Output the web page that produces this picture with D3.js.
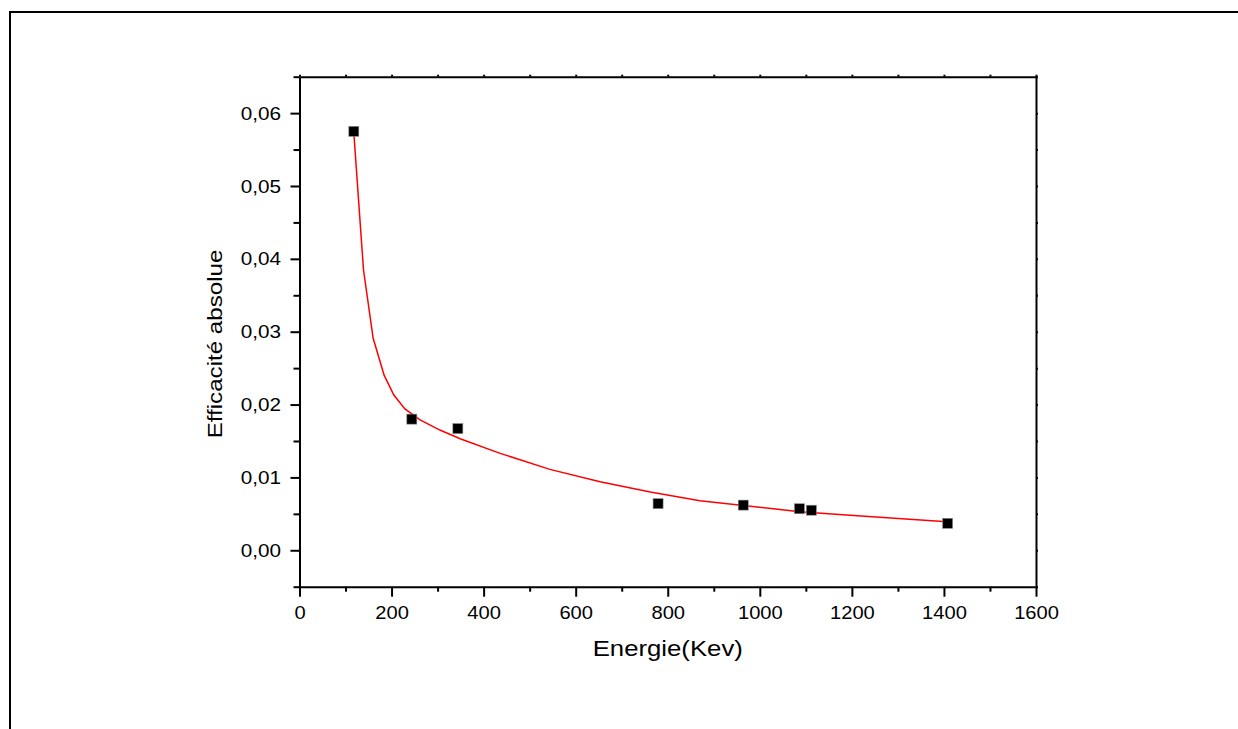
<!DOCTYPE html>
<html>
<head>
<meta charset="utf-8">
<script src="https://cdn.jsdelivr.net/npm/d3@7"></script>
<style>
  body { margin: 0; background: #fff; }
  text { font-family: Arial, "Liberation Sans", sans-serif; fill: #000; }
</style>
</head>
<body>
<div id="container"></div>
<script>
const width = 1238;
const height = 729;

// measured points (energy in keV, absolute efficiency)
const energies = [118, 244, 344, 779, 964, 1086, 1112, 1408];
const efficiencies = [0.0575, 0.0180, 0.0167, 0.0064, 0.0062, 0.0057, 0.0055, 0.0037];

// fitted curve
const fitX = [118, 139, 160, 184, 205, 229, 262, 305, 349, 436, 544, 653, 762, 870, 1087, 1196, 1406];
const fitY = [0.0573, 0.0385, 0.0291, 0.0240, 0.0213, 0.0194, 0.0179, 0.0165, 0.0153, 0.0133, 0.0111, 0.0094, 0.0080, 0.0068, 0.0053, 0.0048, 0.0039];

const xTicks = [0, 200, 400, 600, 800, 1000, 1200, 1400, 1600];
const xMinor = [100, 300, 500, 700, 900, 1100, 1300, 1500];
const yTicks = [0, 0.01, 0.02, 0.03, 0.04, 0.05, 0.06];
const yMinor = [-0.005, 0.005, 0.015, 0.025, 0.035, 0.045, 0.055, 0.065];

const xTitle = "Energie(Kev)";
const yTitle = "Efficacité absolue";

const plotLeft = 299.5, plotRight = 1036, plotTop = 76.7, plotBottom = 586.7;
const stretch = 1.15;

let svg = d3.select("#container").append("svg")
    .attr("width", width)
    .attr("height", height)
    .attr("viewBox", `0 0 ${width} ${height}`);

// page frame (top and left edges only are visible)
svg.append("line").attr("x1", 10).attr("x2", width).attr("y1", 12).attr("y2", 12)
    .attr("stroke", "#000").attr("stroke-width", 2);
svg.append("line").attr("x1", 10).attr("x2", 10).attr("y1", 11).attr("y2", height)
    .attr("stroke", "#000").attr("stroke-width", 2);

let x = d3.scaleLinear().domain([0, 1600]).range([plotLeft, plotRight]);
let y = d3.scaleLinear().domain([-0.005, 0.065]).range([plotBottom, plotTop]);

let fmt = d => d3.format(".2f")(d).replace(".", ",");

// bottom axis
let gx = svg.append("g").attr("transform", `translate(0,${plotBottom})`)
    .call(d3.axisBottom(x).tickValues(xTicks).tickSize(10).tickSizeOuter(0).tickFormat(d3.format("d")));
gx.selectAll("text").attr("y", 32).attr("dy", null).style("font-size", "17.5px")
    .attr("transform", `scale(${stretch},1)`);
svg.append("g").attr("transform", `translate(0,${plotBottom})`)
    .call(d3.axisBottom(x).tickValues(xMinor).tickSize(5).tickSizeOuter(0).tickFormat(""))
    .select(".domain").remove();

// left axis
let gy = svg.append("g").attr("transform", `translate(${plotLeft},0)`)
    .call(d3.axisLeft(y).tickValues(yTicks).tickSize(9).tickSizeOuter(0).tickFormat(fmt));
gy.selectAll("text").attr("x", -16).attr("dy", "0.34em").style("font-size", "18px")
    .attr("transform", `scale(${stretch},1)`);
svg.append("g").attr("transform", `translate(${plotLeft},0)`)
    .call(d3.axisLeft(y).tickValues(yMinor).tickSize(6).tickSizeOuter(0).tickFormat(""))
    .select(".domain").remove();

// top and right axes, tiny ticks
svg.append("g").attr("transform", `translate(0,${plotTop})`)
    .call(d3.axisTop(x).tickValues(xTicks.concat(xMinor)).tickSize(2).tickSizeOuter(0).tickFormat(""));
svg.append("g").attr("transform", `translate(${plotRight},0)`)
    .call(d3.axisRight(y).tickValues(yTicks.concat(yMinor)).tickSize(2).tickSizeOuter(0).tickFormat(""));

svg.selectAll(".domain, .tick line").attr("stroke", "#000").attr("stroke-width", 2);

// fit curve
let line = d3.line().x((d, i) => x(fitX[i])).y(d => y(d));
svg.append("path")
    .datum(fitY)
    .attr("fill", "none")
    .attr("stroke", "#ff0000")
    .attr("stroke-width", 1.5)
    .attr("d", line);

// points
svg.append("g")
    .selectAll("rect")
    .data(energies)
    .join("rect")
    .attr("x", d => x(d) - 5)
    .attr("y", (d, i) => y(efficiencies[i]) - 5)
    .attr("width", 10)
    .attr("height", 10)
    .attr("fill", "#000")
    .attr("stroke", "#888")
    .attr("stroke-width", 0.6);

// titles
svg.append("text")
    .attr("transform", `translate(${(plotLeft + plotRight) / 2},656) scale(1.17,1)`)
    .attr("text-anchor", "middle")
    .style("font-size", "22px")
    .text(xTitle);

svg.append("text")
    .attr("transform", `translate(222,344) rotate(-90) scale(${stretch},1)`)
    .attr("text-anchor", "middle")
    .style("font-size", "21px")
    .text(yTitle);
</script>
</body>
</html>
